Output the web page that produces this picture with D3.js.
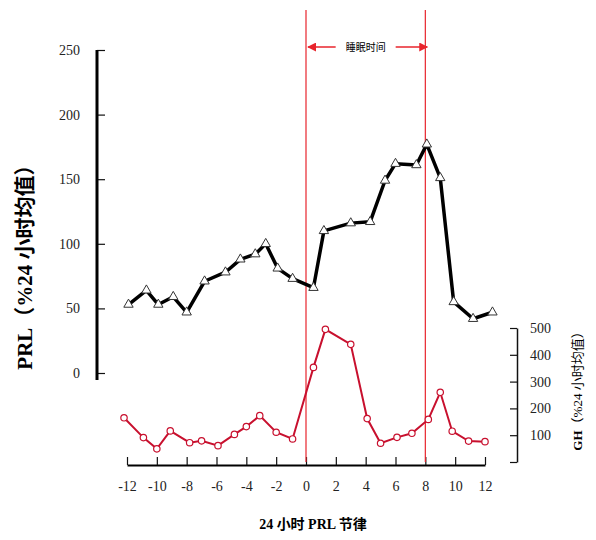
<!DOCTYPE html>
<html>
<head>
<meta charset="utf-8">
<script src="https://cdn.jsdelivr.net/npm/d3@7"></script>
<style>
  body { margin: 0; background: #fff; }
  .num text { font-family: "Liberation Serif", serif; font-size: 14px; fill: #222; }
</style>
</head>
<body>
<div id="chart"></div>
<script>
//chart size
let width_svg = 596;
let height_svg = 540;

//PRL series (hours, % of 24h mean)
let prl_hours = [-11.9, -10.7, -9.9, -8.9, -8.0, -6.8, -5.4, -4.4, -3.4, -2.7, -1.9, -0.9,
                 0.5, 1.2, 3.0, 4.3, 5.3, 6.0, 7.4, 8.1, 9.0, 9.9, 11.2, 12.5];
let prl_values = [53, 64, 53, 59, 47, 71, 78, 88, 92, 100, 81, 73,
                  66, 110, 116, 117, 149, 162, 161, 177, 151, 55, 42, 47];

//GH series (hours, % of 24h mean)
let gh_hours = [-12.2, -10.9, -10.0, -9.1, -7.8, -7.0, -5.9, -4.8, -4.0, -3.1, -2.0, -0.9,
                0.5, 1.3, 3.0, 4.1, 5.0, 6.1, 7.1, 8.2, 9.0, 9.8, 10.9, 12.0];
let gh_values = [165, 91, 49, 116, 72, 79, 61, 103, 132, 173, 111, 86,
                 353, 495, 439, 162, 70, 92, 107, 159, 260, 115, 78, 76];

//tick labels
let x_ticks = [-12, -10, -8, -6, -4, -2, 0, 2, 4, 6, 8, 10, 12];
let prl_ticks = [0, 50, 100, 150, 200, 250];
let gh_ticks = [0, 100, 200, 300, 400, 500];

//sleep period
let sleep = [0, 8];

let svg = d3.select("#chart").append("svg")
    .attr("width", width_svg)
    .attr("height", height_svg);

//==========================================================
//scales
let x = d3.scaleLinear().domain([-12, 12]).range([127, 485]);
let y_prl = d3.scaleLinear().domain([0, 250]).range([373, 50]);
let y_gh = d3.scaleLinear().domain([0, 500]).range([462, 328]);

//==========================================================
//axes
let left_axis = svg.append("g")
    .attr("class", "num")
    .attr("transform", "translate(97,0)")
    .call(d3.axisLeft(y_prl).tickValues(prl_ticks).tickSizeInner(-8).tickSizeOuter(0).tickPadding(17));
left_axis.select(".domain").remove();
left_axis.selectAll(".tick line").attr("stroke", "#111").attr("stroke-width", 1.2);
svg.append("line")
    .attr("x1", 97).attr("x2", 97)
    .attr("y1", y_prl(250)).attr("y2", y_prl(0) + 7)
    .attr("stroke", "#000").attr("stroke-width", 3);

let bottom_axis = svg.append("g")
    .attr("class", "num")
    .attr("transform", "translate(0,465)")
    .call(d3.axisBottom(x).tickValues(x_ticks).tickSizeInner(-8).tickSizeOuter(0).tickPadding(16)
        .tickFormat(d => String(d)));
bottom_axis.select(".domain").attr("stroke", "#000").attr("stroke-width", 2);
bottom_axis.selectAll(".tick line").attr("stroke", "#111").attr("stroke-width", 1.2);

let right_axis = svg.append("g")
    .attr("class", "num")
    .attr("transform", "translate(517,0)")
    .call(d3.axisRight(y_gh).tickValues(gh_ticks).tickSizeInner(-7).tickSizeOuter(0).tickPadding(13)
        .tickFormat(d => d === 0 ? "" : d));
right_axis.select(".domain").attr("stroke", "#111").attr("stroke-width", 1.5);
right_axis.selectAll(".tick line").attr("stroke", "#111").attr("stroke-width", 1.2);

//==========================================================
//axis titles
svg.append("text")
    .attr("transform", "translate(32,262) rotate(-90)")
    .attr("text-anchor", "middle")
    .style("font-family", "'Liberation Serif', 'Noto Sans CJK SC', serif")
    .style("font-weight", "bold")
    .style("font-size", "21px")
    .text("PRL（%24 小时均值）");

let gh_title = svg.append("text")
    .attr("transform", "translate(582,388) rotate(-90)")
    .attr("text-anchor", "middle")
    .style("font-family", "'Liberation Serif', 'Noto Sans CJK SC', serif")
    .style("font-size", "13px");
gh_title.append("tspan").style("font-weight", "bold").text("GH");
gh_title.append("tspan").text("（%24 小时均值）");

svg.append("text")
    .attr("x", 313).attr("y", 529)
    .attr("text-anchor", "middle")
    .style("font-family", "'Liberation Serif', 'Noto Sans CJK SC', serif")
    .style("font-weight", "bold")
    .style("font-size", "14px")
    .text("24 小时 PRL 节律");

//==========================================================
//sleep lines and annotation
svg.selectAll(".sleep")
    .data(sleep)
    .enter()
    .append("line")
    .attr("x1", d => x(d)).attr("x2", d => x(d))
    .attr("y1", 10).attr("y2", 462)
    .attr("stroke", "#e8242c").attr("stroke-width", 1.2);

svg.append("defs").append("marker")
    .attr("id", "arrow")
    .attr("viewBox", "0 0 10 10")
    .attr("refX", 9).attr("refY", 5)
    .attr("markerWidth", 9).attr("markerHeight", 9)
    .attr("markerUnits", "userSpaceOnUse")
    .attr("orient", "auto")
    .append("path")
    .attr("d", "M0,0 L10,5 L0,10 z")
    .attr("fill", "#e8242c");

let mid = (x(sleep[0]) + x(sleep[1])) / 2;
svg.append("line")
    .attr("x1", mid - 30).attr("x2", x(sleep[0]) + 2)
    .attr("y1", 47).attr("y2", 47)
    .attr("stroke", "#e8242c").attr("stroke-width", 1.5)
    .attr("marker-end", "url(#arrow)");
svg.append("line")
    .attr("x1", mid + 30).attr("x2", x(sleep[1]) + 2)
    .attr("y1", 47).attr("y2", 47)
    .attr("stroke", "#e8242c").attr("stroke-width", 1.5)
    .attr("marker-end", "url(#arrow)");
svg.append("text")
    .attr("x", mid).attr("y", 51)
    .attr("text-anchor", "middle")
    .style("font-family", "'Noto Sans CJK SC', sans-serif")
    .style("font-size", "10px")
    .text("睡眠时间");

//==========================================================
//PRL line
let prl_data = prl_hours.map((h, i) => ({ h: h, v: prl_values[i] }));
let gh_data = gh_hours.map((h, i) => ({ h: h, v: gh_values[i] }));

svg.append("path")
    .datum(prl_data)
    .attr("fill", "none")
    .attr("stroke", "#000")
    .attr("stroke-width", 3.5)
    .attr("stroke-linejoin", "round")
    .attr("d", d3.line().x(d => x(d.h)).y(d => y_prl(d.v)));

svg.selectAll(".tri")
    .data(prl_data)
    .enter()
    .append("path")
    .attr("transform", d => `translate(${x(d.h)},${y_prl(d.v)})`)
    .attr("d", d3.symbol(d3.symbolTriangle, 38))
    .attr("fill", "#fff")
    .attr("stroke", "#333")
    .attr("stroke-width", 1);

//GH line
svg.append("path")
    .datum(gh_data)
    .attr("fill", "none")
    .attr("stroke", "#c8102e")
    .attr("stroke-width", 2)
    .attr("d", d3.line().x(d => x(d.h)).y(d => y_gh(d.v)));

svg.selectAll(".dot")
    .data(gh_data)
    .enter()
    .append("circle")
    .attr("cx", d => x(d.h))
    .attr("cy", d => y_gh(d.v))
    .attr("r", 3.2)
    .attr("fill", "#fff")
    .attr("stroke", "#c8102e")
    .attr("stroke-width", 1.2);
</script>
</body>
</html>
